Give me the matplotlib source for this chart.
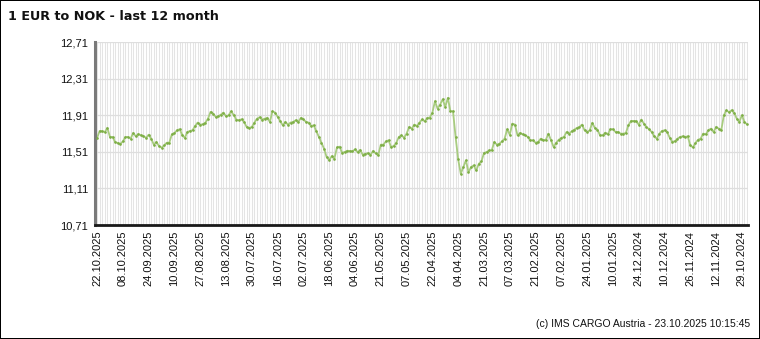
import matplotlib
matplotlib.use("Agg")
import matplotlib.pyplot as plt

TITLE = "1 EUR to NOK - last 12 month"
FOOTER = "(c) IMS CARGO Austria - 23.10.2025 10:15:45"

# daily EUR/NOK, newest (22.10.2025) first, oldest (23.10.2024) last
rates = [
    11.662, 11.738, 11.735, 11.727, 11.771, 11.673, 11.673, 11.618, 11.607, 11.596,
    11.625, 11.673, 11.673, 11.654, 11.716, 11.680, 11.705, 11.691, 11.684, 11.662,
    11.698, 11.654, 11.589, 11.618, 11.574, 11.556, 11.581, 11.610, 11.610, 11.702,
    11.716, 11.746, 11.757, 11.698, 11.662, 11.727, 11.738, 11.746, 11.793, 11.830,
    11.808, 11.811, 11.830, 11.873, 11.947, 11.928, 11.892, 11.899, 11.917, 11.939,
    11.899, 11.910, 11.954, 11.910, 11.863, 11.855, 11.866, 11.837, 11.782, 11.771,
    11.782, 11.830, 11.873, 11.888, 11.863, 11.873, 11.881, 11.837, 11.954, 11.939,
    11.892, 11.844, 11.800, 11.837, 11.808, 11.830, 11.837, 11.855, 11.837, 11.881,
    11.866, 11.837, 11.830, 11.793, 11.800, 11.735, 11.673, 11.610, 11.545, 11.453,
    11.420, 11.464, 11.435, 11.559, 11.567, 11.501, 11.508, 11.523, 11.519, 11.515,
    11.537, 11.508, 11.530, 11.479, 11.490, 11.494, 11.479, 11.519, 11.494, 11.472,
    11.589, 11.589, 11.625, 11.636, 11.563, 11.574, 11.610, 11.673, 11.691, 11.665,
    11.709, 11.782, 11.764, 11.808, 11.793, 11.830, 11.864, 11.844, 11.881, 11.884,
    11.939, 12.063, 11.983, 12.027, 12.085, 12.001, 12.100, 11.954, 11.954, 11.673,
    11.428, 11.271, 11.344, 11.417, 11.289, 11.344, 11.362, 11.307, 11.380, 11.406,
    11.497, 11.508, 11.526, 11.526, 11.618, 11.589, 11.600, 11.625, 11.654, 11.757,
    11.698, 11.819, 11.808, 11.691, 11.716, 11.702, 11.691, 11.673, 11.636, 11.636,
    11.610, 11.618, 11.654, 11.636, 11.643, 11.709, 11.636, 11.563, 11.610, 11.643,
    11.662, 11.673, 11.727, 11.709, 11.735, 11.753, 11.771, 11.782, 11.808, 11.746,
    11.727, 11.746, 11.826, 11.771, 11.753, 11.691, 11.691, 11.720, 11.702, 11.757,
    11.757, 11.727, 11.727, 11.709, 11.709, 11.716, 11.800, 11.848, 11.848, 11.844,
    11.808, 11.863, 11.819, 11.782, 11.757, 11.727, 11.680, 11.654, 11.710, 11.738,
    11.746, 11.727, 11.665, 11.621, 11.625, 11.654, 11.672, 11.680, 11.672, 11.680,
    11.580, 11.560, 11.607, 11.643, 11.654, 11.710, 11.702, 11.746, 11.764, 11.727,
    11.782, 11.764, 11.746, 11.910, 11.965, 11.943, 11.965, 11.936, 11.873, 11.837,
    11.910, 11.837, 11.810,
]

date_labels = [
    "22.10.2025", "08.10.2025", "24.09.2025", "10.09.2025", "27.08.2025",
    "13.08.2025", "30.07.2025", "16.07.2025", "02.07.2025", "18.06.2025",
    "04.06.2025", "21.05.2025", "07.05.2025", "22.04.2025", "04.04.2025",
    "21.03.2025", "07.03.2025", "21.02.2025", "07.02.2025", "24.01.2025",
    "10.01.2025", "24.12.2024", "10.12.2024", "26.11.2024", "12.11.2024",
    "29.10.2024",
]

y_ticks = [10.71, 11.11, 11.51, 11.91, 12.31, 12.71]

plt.rcParams["font.family"] = ["Liberation Sans", "DejaVu Sans"]

fig = plt.figure(figsize=(7.6, 3.39), dpi=100, facecolor="white",
                 edgecolor="black", linewidth=1.2)
ax = fig.add_axes([0.125, 0.336, 0.859, 0.540])

x = list(range(len(rates)))

# one light vertical grid line per day
for xi in x:
    ax.axvline(xi, color="#e4e4e4", linewidth=0.75, zorder=0)
for yv in y_ticks:
    ax.axhline(yv, color="#dedede", linewidth=0.9, zorder=0.5)

ax.plot(x, rates, color="#a8cc80", linewidth=1.3, zorder=2)
ax.plot(x, rates, linestyle="none", marker="o", markersize=1.9,
        markeredgewidth=0, color="#7cad44", zorder=3)

ax.set_xlim(-0.8, len(rates) - 0.7)
ax.set_ylim(y_ticks[0], y_ticks[-1])

ax.set_yticks(y_ticks)
ax.set_yticklabels([f"{v:.2f}".replace(".", ",") for v in y_ticks], fontsize=8)
ax.set_xticks(range(0, 10 * len(date_labels), 10))
ax.set_xticklabels(date_labels, rotation=90, fontsize=8)
ax.tick_params(axis="both", length=0, colors="#111111")
ax.tick_params(axis="y", pad=5)
ax.tick_params(axis="x", pad=4)

for side in ("top", "right"):
    ax.spines[side].set_visible(False)
ax.spines["left"].set_color("#7a7a7a")
ax.spines["left"].set_linewidth(2.2)
ax.spines["bottom"].set_color("#1a1a1a")
ax.spines["bottom"].set_linewidth(2.0)

fig.text(8 / 760, 1 - 17 / 339, TITLE, fontsize=9.2, fontweight="bold",
         family="DejaVu Sans", ha="left", va="center", color="#111111")
fig.text(750 / 760, 1 - 324 / 339, FOOTER, fontsize=7.5, ha="right",
         va="center", color="#111111")

fig.savefig("out.png", dpi=100)
